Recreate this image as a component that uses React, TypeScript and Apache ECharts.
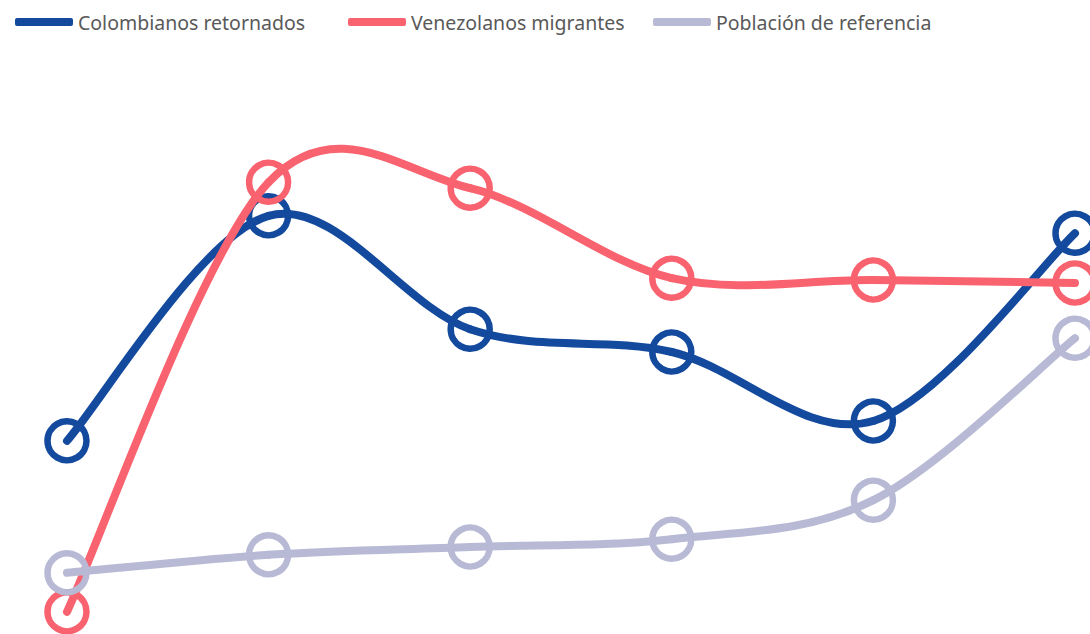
import React, { useEffect, useRef } from "react";
import * as echarts from "echarts";

const categories = ["1", "2", "3", "4", "5", "6"];
const colombianos = [32.2, 69.7, 50.8, 47.0, 35.5, 66.8];
const venezolanos = [3.7, 75.3, 74.3, 59.3, 59.0, 58.5];
const referencia = [10.2, 13.2, 14.5, 15.8, 22.3, 49.3];

const names = ["Colombianos retornados", "Venezolanos migrantes", "Población de referencia"];
const colors = ["#134A9E", "#F9636F", "#B8BAD5"];
const legendLefts = [10, 343, 648];

function makeRender(values: number[], color: string) {
  return (params: any, api: any) => {
    const i = params.dataIndex;
    const n = values.length;
    const P = (j: number) => {
      const k = Math.max(0, Math.min(n - 1, j));
      return api.coord([k, values[k]]);
    };
    const children: any[] = [];
    const p1 = P(i);
    if (i < n - 1) {
      const p0 = P(i - 1);
      const p2 = P(i + 1);
      const p3 = P(i + 2);
      const t = 1 / 6;
      children.push({
        type: "bezierCurve",
        shape: {
          x1: p1[0],
          y1: p1[1],
          cpx1: p1[0] + (p2[0] - p0[0]) * t,
          cpy1: p1[1] + (p2[1] - p0[1]) * t,
          cpx2: p2[0] - (p3[0] - p1[0]) * t,
          cpy2: p2[1] - (p3[1] - p1[1]) * t,
          x2: p2[0],
          y2: p2[1],
        },
        style: { stroke: color, lineWidth: 8, fill: "none", lineCap: "round" },
      });
    }
    children.push({
      type: "circle",
      shape: { cx: p1[0], cy: p1[1], r: 19.5 },
      style: { stroke: color, lineWidth: 6.5, fill: "none" },
    });
    return { type: "group", children };
  };
}

export default function App() {
  const ref = useRef<HTMLDivElement>(null);
  useEffect(() => {
    if (!ref.current) return;
    const chart = echarts.init(ref.current, null, { renderer: "svg" });
    const dataSets = [colombianos, venezolanos, referencia];
    chart.setOption({
      animation: false,
      backgroundColor: "#ffffff",
      legend: names.map((n, i) => ({
        left: legendLefts[i],
        top: 7,
        itemWidth: 58,
        itemHeight: 8,
        icon: "roundRect",
        textStyle: { fontFamily: "Noto Sans", fontSize: 19.5, color: "#595959" },
        data: [{ name: n, itemStyle: { color: colors[i], borderWidth: 0 } }],
      })),
      grid: { left: 67, right: 15, top: 34, bottom: 0, containLabel: false },
      xAxis: {
        type: "category",
        data: categories,
        boundaryGap: false,
        show: false,
      },
      yAxis: { type: "value", min: 0, max: 100, show: false },
      series: dataSets.map((d, i) => ({
        name: names[i],
        type: "custom",
        coordinateSystem: "cartesian2d",
        data: d.map((v, k) => [k, v]),
        itemStyle: { color: colors[i] },
        clip: false,
        z: 2 + i,
        renderItem: makeRender(d, colors[i]),
      })),
    });
    return () => chart.dispose();
  }, []);
  return (
    <div
      ref={ref}
      style={{ position: "fixed", left: 0, top: 0, width: 1090, height: 634 }}
    />
  );
}
